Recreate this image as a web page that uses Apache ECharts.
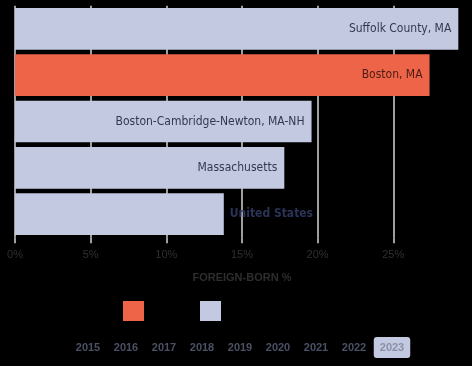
<!DOCTYPE html>
<html>
<head>
<meta charset="utf-8">
<script src="https://cdn.jsdelivr.net/npm/echarts@6/dist/echarts.min.js"></script>
<style>html,body{margin:0;padding:0;background:#000;}#c{width:472px;height:366px;}</style>
</head>
<body>
<div id="c"></div>
<script>
const categories = ['Suffolk County, MA', 'Boston, MA', 'Boston-Cambridge-Newton, MA-NH', 'Massachusetts', 'United States'];
const values = [29.3, 27.4, 19.6, 17.8, 13.8];
const highlighted = 'Boston, MA';
const legendNames = ['Boston, MA', 'Comparison'];
const xTicks = [0, 5, 10, 15, 20, 25];
const years = ['2015', '2016', '2017', '2018', '2019', '2020', '2021', '2022', '2023'];
const selectedYear = '2023';

const ORANGE = '#ed6448';
const LAV = '#c2c9e0';
const NARROW = '"DejaVu Sans Condensed", sans-serif';

function makeData(isHighlight) {
  return categories.map((c, i) => {
    const mine = (c === highlighted) === isHighlight;
    if (!mine) return '-';
    const outside = values[i] < 15;
    return {
      value: values[i],
      label: outside
        ? { position: 'right', distance: 6, color: '#2b3358', fontWeight: 'bold' }
        : { position: 'insideRight', distance: 7 }
    };
  });
}

const chart = echarts.init(document.getElementById('c'), null, { renderer: 'canvas' });
chart.setOption({
  backgroundColor: '#000',
  animation: false,
  grid: [
    { left: 15, right: 3.1, top: 5.75, height: 231.5 },
    { left: 69, width: 342, top: 334, height: 1 }
  ],
  xAxis: [
    {
      type: 'value', min: 0, max: 30, interval: 5,
      name: 'FOREIGN-BORN %', nameLocation: 'middle', nameGap: 35,
      nameTextStyle: { color: '#2e2e2e', fontWeight: 'bold', fontSize: 11, fontFamily: 'Liberation Sans, sans-serif', letterSpacing: 1.8 },
      axisLine: { show: false },
      axisTick: { show: true, length: 6, lineStyle: { color: '#d4d4d4', width: 1.5 }, customValues: xTicks },
      axisLabel: { color: '#303030', fontSize: 11, margin: 12, fontFamily: 'Liberation Sans, sans-serif', formatter: v => v + '%', customValues: xTicks },
      splitLine: { show: true, lineStyle: { color: ['#d4d4d4', '#d4d4d4', '#d4d4d4', '#d4d4d4', '#d4d4d4', '#d4d4d4', 'rgba(0,0,0,0)'], width: 1.5 } }
    },
    {
      type: 'category', gridIndex: 1, data: years, position: 'bottom',
      axisLine: { show: false }, axisTick: { show: false }, splitLine: { show: false },
      axisLabel: {
        interval: 0, margin: 2,
        formatter: v => (v === selectedYear ? '{s|' + v + '}' : '{n|' + v + '}'),
        rich: {
          n: { padding: [5, 6], color: '#4b5064', fontWeight: 'bold', fontSize: 11, fontFamily: 'Liberation Sans, sans-serif' },
          s: { padding: [5, 6], color: '#8990a8', backgroundColor: LAV, borderRadius: 3, fontWeight: 'bold', fontSize: 11, fontFamily: 'Liberation Sans, sans-serif' }
        }
      }
    }
  ],
  yAxis: [
    { type: 'category', data: categories, inverse: true, show: false },
    { type: 'value', gridIndex: 1, show: false }
  ],
  legend: [
    { data: [legendNames[0]], left: 123, top: 301, padding: 0, itemWidth: 21, itemHeight: 20, icon: 'rect', textStyle: { color: '#000' } },
    { data: [legendNames[1]], left: 200, top: 301, padding: 0, itemWidth: 21, itemHeight: 20, icon: 'rect', textStyle: { color: '#000' } }
  ],
  series: [
    {
      name: legendNames[0], type: 'bar', stack: 'all', barCategoryGap: '10%',
      itemStyle: { color: ORANGE },
      label: { show: true, formatter: '{b}', color: '#4a1c14', fontSize: 12, fontFamily: NARROW },
      data: makeData(true)
    },
    {
      name: legendNames[1], type: 'bar', stack: 'all', barCategoryGap: '10%',
      itemStyle: { color: LAV },
      label: { show: true, formatter: '{b}', color: '#333852', fontSize: 12, fontFamily: NARROW },
      data: makeData(false)
    }
  ]
});
</script>
</body>
</html>
